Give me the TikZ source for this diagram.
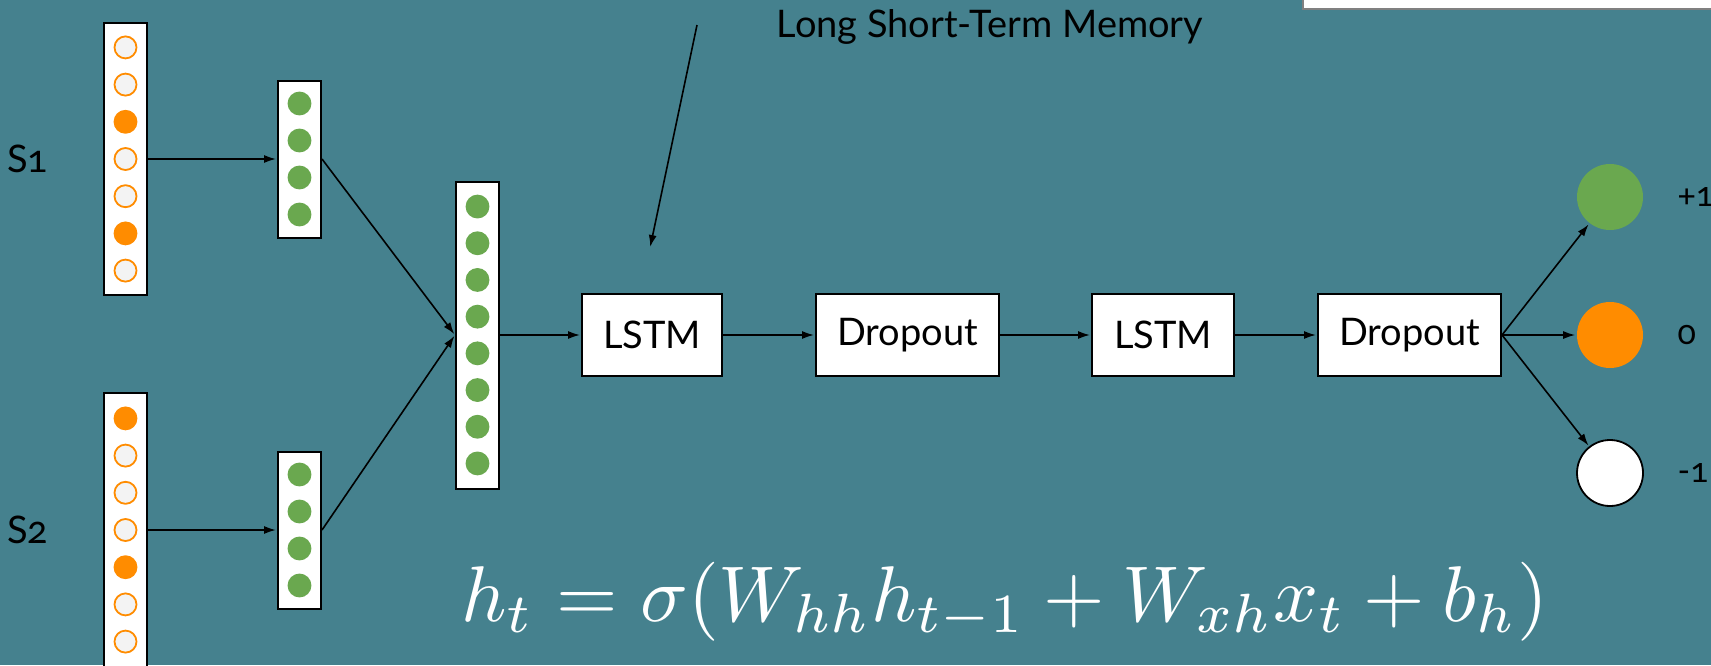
\documentclass[tikz,border=0pt]{standalone}
\usepackage{amsmath}
\usepackage{fontspec}
\setsansfont{Lato}[Numbers=OldStyle]
\usetikzlibrary{arrows.meta,positioning}

\definecolor{slidebg}{HTML}{45818E}
\definecolor{dotorange}{HTML}{FF8C00}
\definecolor{dotgreen}{HTML}{6AA84F}
\definecolor{dotoff}{HTML}{F3F3F3}

\begin{document}
\begin{tikzpicture}[-,>={Latex[length=12pt,width=8pt]},shorten >=1pt,x=1pt,y=-1pt,
                    line width=1.6pt,font=\sffamily\fontsize{38}{42}\selectfont,
                    vec/.style={draw,fill=white,line width=2pt,minimum width=43pt,inner sep=0pt},
                    layer/.style={draw,fill=white,line width=2pt,minimum height=82pt,inner sep=0pt},
                    dot/.style={circle,minimum size=22pt,inner sep=0pt,line width=1.8pt},
                    outdot/.style={circle,minimum size=66pt,inner sep=0pt},
                    classlab/.style={inner sep=0pt,font=\sffamily\fontsize{34}{38}\selectfont}]
  \useasboundingbox (0,0) rectangle (1711,665);
  \fill[slidebg] (0,0) rectangle (1711,665);
  \draw[gray,fill=white,line width=1.2pt] (1303,-20) rectangle (1740,9);

  % one-hot inputs
  \node[vec,minimum height=272pt] (X1) at (125.5,159) {};
  \node[vec,minimum height=274pt] (X2) at (125.5,530) {};
  \foreach \f [count=\i] in {dotoff,dotoff,dotorange,dotoff,dotoff,dotorange,dotoff}
    \node[dot,draw=dotorange,fill=\f] (X1\i) at ([yshift={(4-\i)*37.2pt}]X1.center) {};
  \foreach \f [count=\i] in {dotorange,dotoff,dotoff,dotoff,dotorange,dotoff,dotoff}
    \node[dot,draw=dotorange,fill=\f] (X2\i) at ([yshift={(4-\i)*37.2pt}]X2.center) {};
  \node[inner sep=0pt,left=54pt of X1] (S1) {S1};
  \node[inner sep=0pt,left=54pt of X2] (S2) {S2};

  % embeddings
  \node[vec,minimum height=157pt] (E1) at (299.5,159) {};
  \node[vec,minimum height=157pt] (E2) at (299.5,530) {};
  \foreach \i in {1,...,4}{
    \node[dot,draw=dotgreen,fill=dotgreen] (E1\i) at ([yshift={(2.5-\i)*37pt}]E1.center) {};
    \node[dot,draw=dotgreen,fill=dotgreen] (E2\i) at ([yshift={(2.5-\i)*37pt}]E2.center) {};
  }

  % merged vector
  \node[vec,minimum height=307pt] (C) at (477.5,335) {};
  \foreach \i in {1,...,8}
    \node[dot,draw=dotgreen,fill=dotgreen] (C\i) at ([yshift={(4.5-\i)*36.7pt}]C.center) {};

  % layers
  \node[layer,minimum width=140pt] (L1) at (652,335) {LSTM};
  \node[layer,minimum width=183pt,right=92pt of L1] (D1) {Dropout};
  \node[layer,minimum width=142pt,right=91pt of D1] (L2) {LSTM};
  \node[layer,minimum width=183pt,right=82pt of L2] (D2) {Dropout};

  % outputs
  \node[outdot,fill=dotgreen] (Pos) at (1610,197) {};
  \node[outdot,fill=dotorange] (Neu) at (1610,335) {};
  \node[outdot,draw,fill=white,line width=1.8pt] (Neg) at (1610,473) {};
  \node[classlab,right=33pt of Pos] (pl) {+1};
  \node[classlab,right=33pt of Neu] (zl) {0};
  \node[classlab,right=33pt of Neg] (nl) {-1};

  \path[->] (X1) edge (E1)
            (X2) edge (E2)
            (E1.east) edge (C.west)
            (E2.east) edge (C.west)
            (C) edge (L1)
            (L1) edge (D1)
            (D1) edge (L2)
            (L2) edge (D2)
            (D2.east) edge (Pos)
                      edge (Neu)
                      edge (Neg);

  % note
  \node[anchor=base] (lstm) at (990,37) {Long Short-Term Memory};
  \coordinate (a1) at (697,25);
  \coordinate (a2) at (650,248);
  \draw[->] (a1) -- (a2);

  \node[text=white,font=\normalsize,scale=7.9,anchor=base] (eq) at (1005,621)
    {$h_t = \sigma(W_{hh}h_{t-1} + W_{xh}x_t + b_h)$};
\end{tikzpicture}
\end{document}
